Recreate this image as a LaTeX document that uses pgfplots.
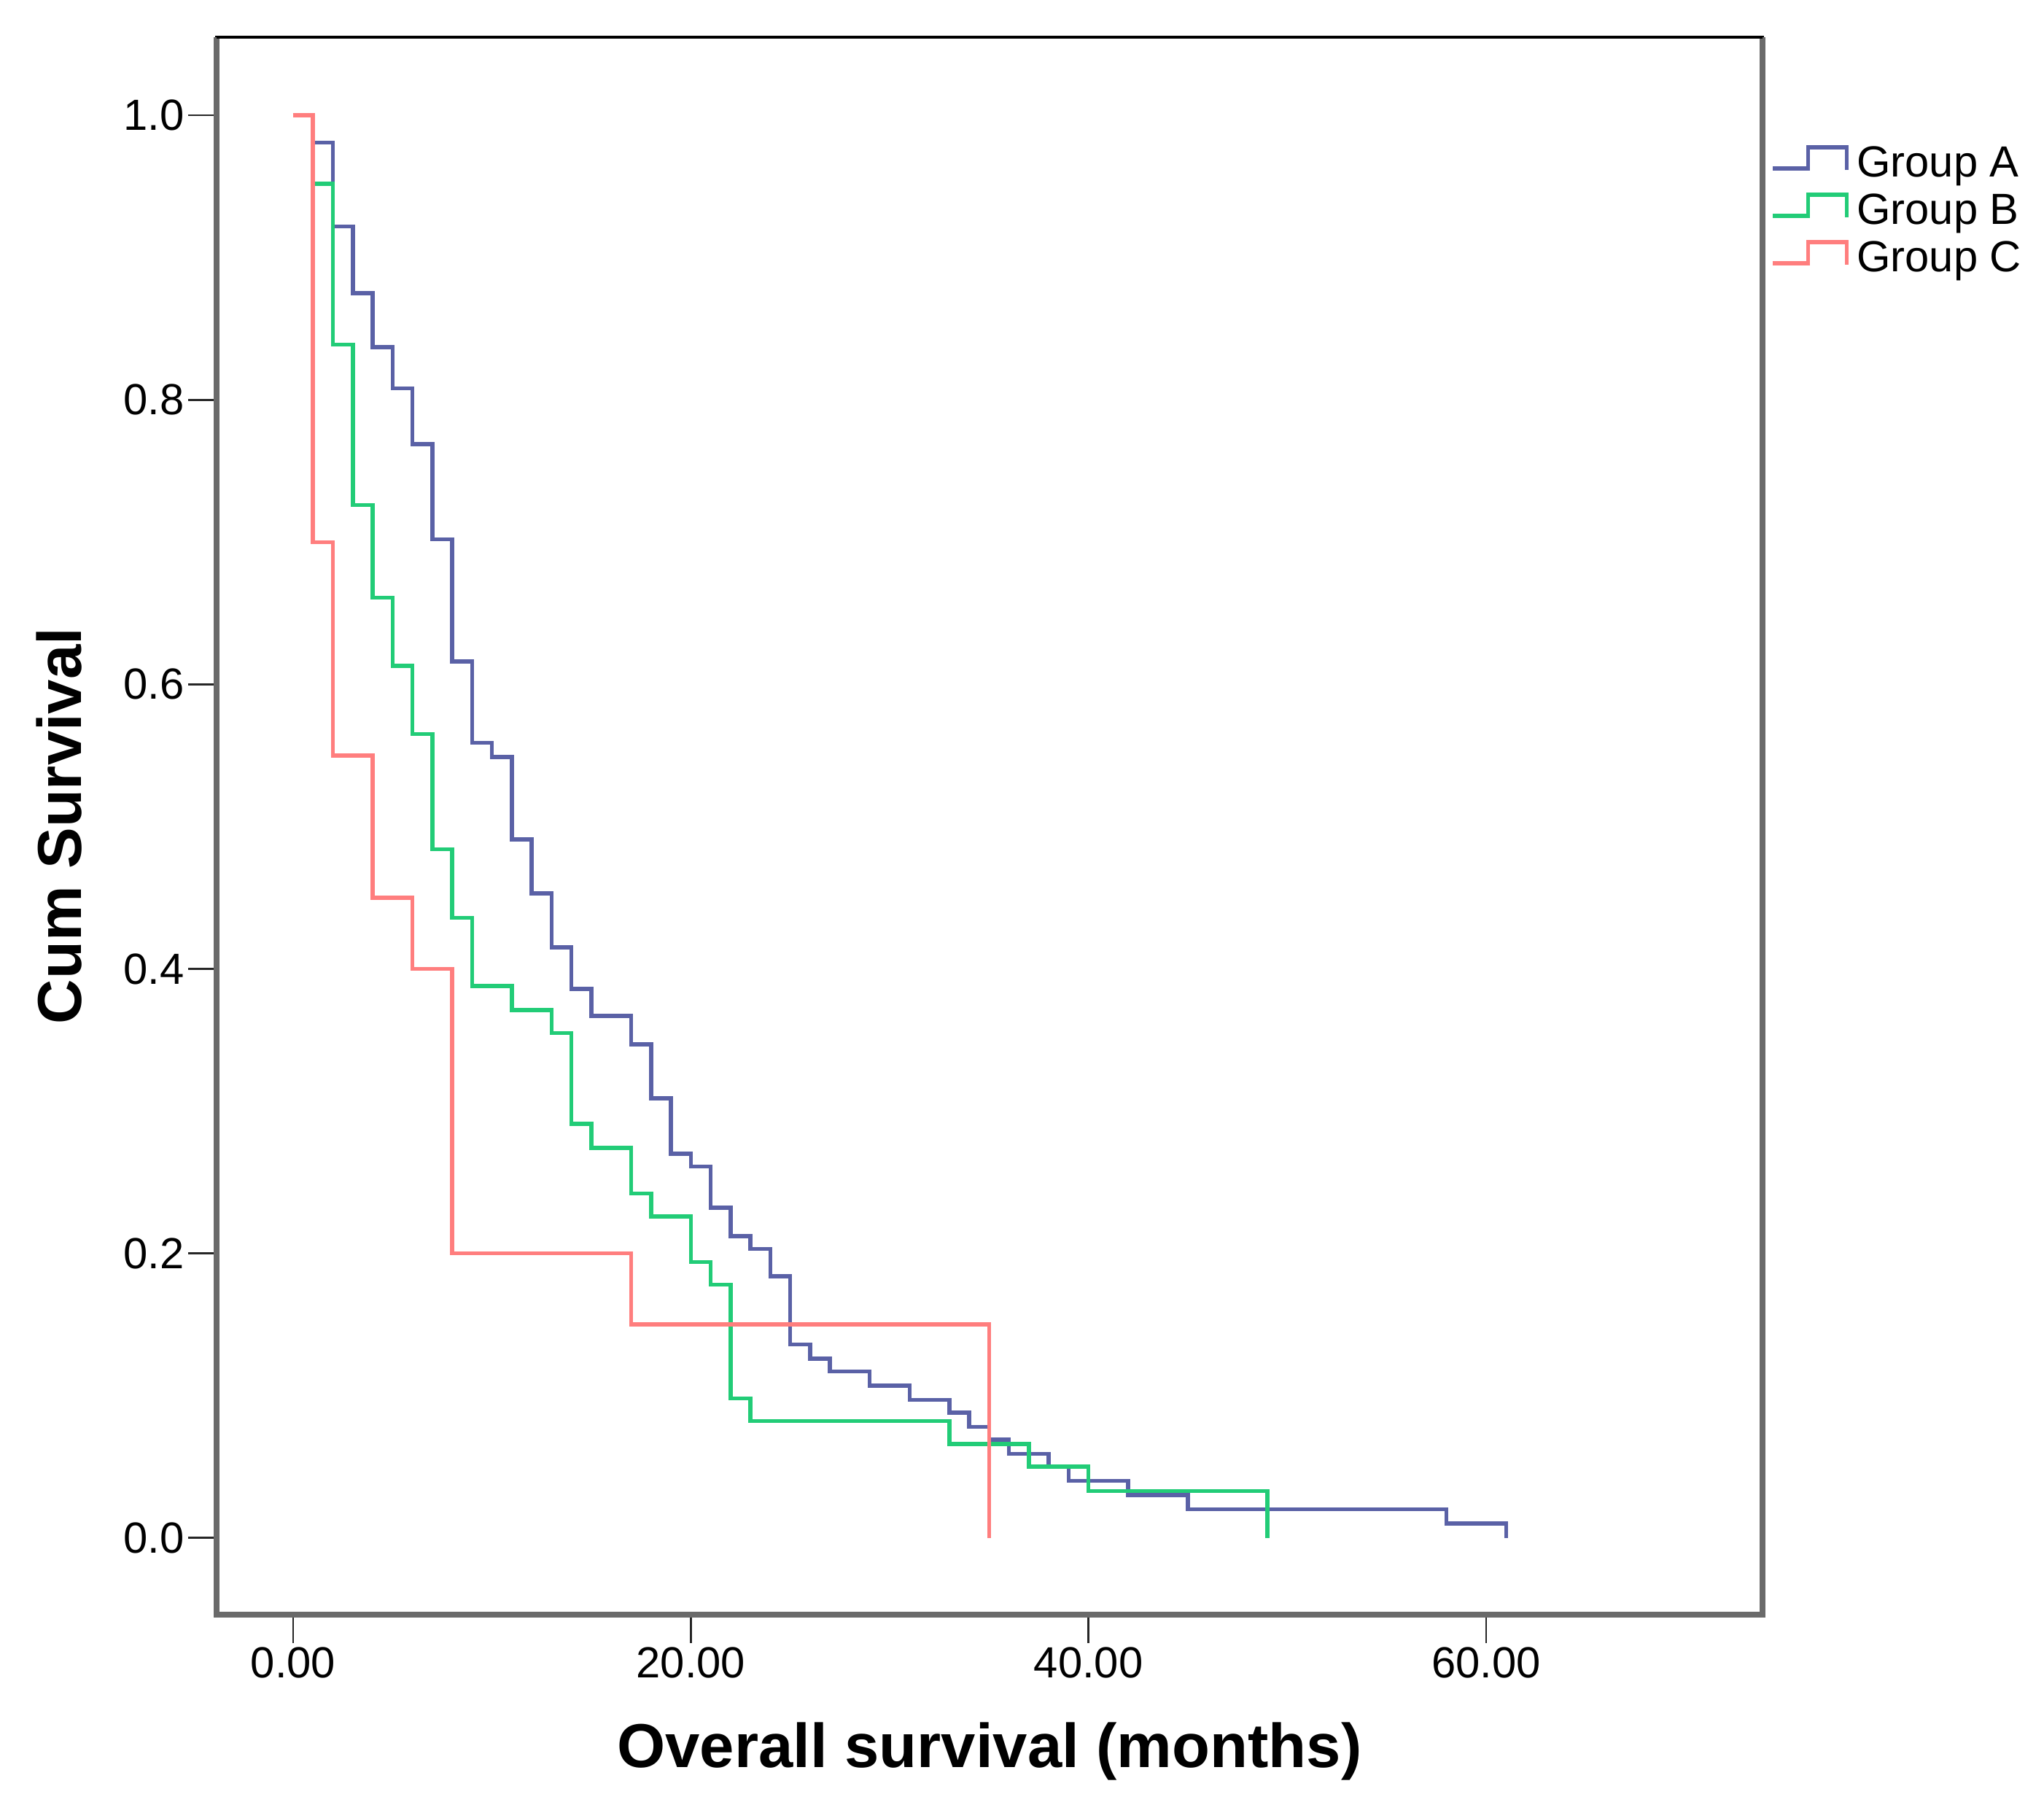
\documentclass[border=0pt]{standalone}
\usepackage{fontspec}
\setmainfont{Liberation Sans}
\usepackage{pgfplots}
\pgfplotsset{compat=1.18}
\definecolor{grpA}{HTML}{5A61A6}
\definecolor{grpB}{HTML}{22CC77}
\definecolor{grpC}{HTML}{FF7E7E}
\definecolor{framegray}{HTML}{6A6A6A}

\begin{document}
\begin{tikzpicture}
    \begin{axis}[
        scale only axis,
        width  = 212mm,
        height = 216.3mm,
        xmin=-3.85, xmax=73.9,
        ymin=-0.054, ymax=1.055,
        xtick={0,20,40,60},
        xticklabels={0.00,20.00,40.00,60.00},
        ytick={0,0.2,0.4,0.6,0.8,1},
        yticklabels={0.0,0.2,0.4,0.6,0.8,1.0},
        xtick pos=lower, ytick pos=left,
        tick align=outside,
        major tick length=3.9mm,
        tick style={black!85, line width=0.25mm},
        ticklabel style={font=\fontsize{17}{20}\selectfont},
        xticklabel style={inner sep=0.5mm},
        yticklabel style={inner sep=0.5mm},
        axis line style={black, line width=0.45mm},
        xlabel={Overall survival (months)},
        ylabel={Cum Survival},
        every axis x label/.style={at={(axis description cs:0.5,0)}, yshift=-18.8mm, anchor=center,
            font=\fontsize{24.2}{28}\selectfont\bfseries},
        every axis y label/.style={at={(axis description cs:0,0.5)}, xshift=-21.6mm, rotate=90, anchor=center,
            font=\fontsize{24.2}{28}\selectfont\bfseries},
        legend style={draw=none, fill=none, at={(axis description cs:1,1)}, anchor=north west,
            xshift=1.1mm, yshift=-14.6mm, inner sep=0pt, row sep=1.2mm,
            font=\fontsize{17}{18}\selectfont, nodes={inner sep=0.3mm}},
        legend cell align=left,
        /tikz/every odd column/.append style={column sep=0.8mm},
        legend image code/.code={\draw[#1] (0mm,-0.7mm) -- (4.8mm,-0.7mm) -- (4.8mm,2.2mm) -- (10.1mm,2.2mm) -- (10.1mm,-0.9mm);},
    ]

        \addplot[const plot, grpA, line width=0.55mm] % Group A
            coordinates {(0,1) (1,0.981) (2,0.922) (3,0.875) (4,0.837) (5,0.808) (6,0.769) (7,0.702)
            (8,0.616) (9,0.559) (10,0.549) (11,0.491) (12,0.453) (13,0.415) (14,0.386) (15,0.367)
            (17,0.347) (18,0.309) (19,0.270) (20,0.261) (21,0.232) (22,0.212) (23,0.203) (24,0.184)
            (25,0.136) (26,0.126) (27,0.117) (29,0.107) (31,0.097) (33,0.088) (34,0.078) (35,0.069)
            (36,0.059) (38,0.050) (39,0.040) (42,0.030) (45,0.020) (58,0.010) (61,0.010) (61,0)};

        \addplot[const plot, grpB, line width=0.55mm] % Group B
            coordinates {(0,1) (1,0.952) (2,0.839) (3,0.726) (4,0.661) (5,0.613) (6,0.565) (7,0.484)
            (8,0.436) (9,0.388) (11,0.371) (13,0.355) (14,0.291) (15,0.274) (17,0.242) (18,0.226)
            (20,0.194) (21,0.178) (22,0.098) (23,0.082) (33,0.066) (37,0.050) (40,0.033) (49,0.033) (49,0)};

        \addplot[const plot, grpC, line width=0.55mm] % Group C
            coordinates {(0,1) (1,0.70) (2,0.55) (4,0.45) (6,0.40) (8,0.20) (17,0.15) (35,0.15) (35,0)};

        \legend{Group A, Group B, Group C}
    \end{axis}

    % heavier grey frame on three sides, as in the original
    \draw[framegray, line width=0.8mm] (current axis.north west) -- (current axis.south west)
        -- (current axis.south east) -- (current axis.north east);
    \draw[black, line width=0.45mm] (current axis.north west) -- (current axis.north east);
    \path (current axis.south west) ++(-29.7mm,-26.1mm) rectangle ++(280.3mm,247.5mm);
\end{tikzpicture}
\end{document}
